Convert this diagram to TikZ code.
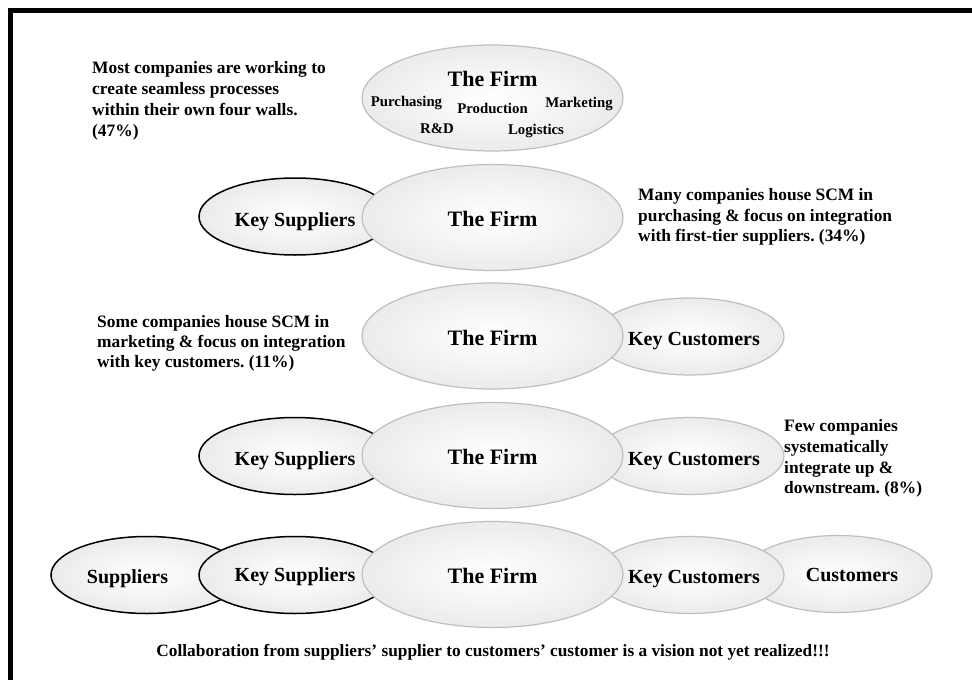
\documentclass[tikz,border=0pt]{standalone}
\usepackage{fontspec}
\setmainfont{Liberation Serif}
\usetikzlibrary{shapes.geometric}
\frenchspacing
\pgfdeclareradialshading{ellshade}{\pgfpoint{0bp}{0bp}}{color(0bp)=(white); color(10bp)=(white!97!black); color(50bp)=(white!84!black)}
\tikzset{
  firmell/.style={ellipse, draw=black!25, line width=1.2pt, shade, shading=ellshade, minimum width=261pt, minimum height=106pt, inner sep=0pt},
  supell/.style={ellipse, draw=black, line width=1.5pt, shade, shading=ellshade, minimum width=192pt, minimum height=77pt, inner sep=0pt},
  custell/.style={ellipse, draw=black!25, line width=1.2pt, shade, shading=ellshade, minimum width=188pt, minimum height=77pt, inner sep=0pt},
  lblbig/.style={font=\fontsize{22}{26}\selectfont\bfseries, anchor=base, inner sep=0pt},
  lblmid/.style={font=\fontsize{20}{24}\selectfont\bfseries, anchor=base, inner sep=0pt},
  lblsmall/.style={font=\fontsize{14.8}{18}\selectfont\bfseries, anchor=base, inner sep=0pt},
  lblnote/.style={font=\fontsize{17.4}{#1}\selectfont\bfseries, align=left, anchor=north west, inner sep=0pt},
}
\begin{document}
\begin{tikzpicture}[x=1pt,y=-1pt]
\useasboundingbox (0,0) rectangle (972,680);
\fill[white] (0,0) rectangle (972,680);
\draw[line width=5pt, line join=miter] (10.5,680) -- (10.5,10.5) -- (972,10.5);

% Row 1
\node[firmell] (firm1) at (492.5,98) {};
\node[lblbig] (firm1t) at (492.5,86) {The Firm};
\node[lblsmall] (pur) at (406.5,106) {Purchasing};
\node[lblsmall] (prod) at (492.5,113) {Production};
\node[lblsmall] (mkt) at (579,107) {Marketing};
\node[lblsmall] (rd) at (437,133) {R\&D};
\node[lblsmall] (log) at (536,134) {Logistics};
\node[lblnote=21pt] (n1) at (92,61.3) {Most companies are working to\\create seamless processes\\within their own four walls.\\(47\%)};

% Row 2
\node[supell] (ks2) at (295,216.5) {};
\node[firmell] (firm2) at (492.5,217.5) {};
\node[lblmid] (ks2t) at (295,226) {Key Suppliers};
\node[lblbig] (firm2t) at (492.5,226) {The Firm};
\node[lblnote=20.5pt] (n2) at (638,188.3) {Many companies house SCM in\\purchasing \& focus on integration\\with first-tier suppliers. (34\%)};

% Row 3
\node[custell] (kc3) at (690,336.5) {};
\node[firmell] (firm3) at (492.5,336) {};
\node[lblbig] (firm3t) at (492.5,345) {The Firm};
\node[lblmid] (kc3t) at (694,345) {Key Customers};
\node[lblnote=20pt] (n3) at (97,315.3) {Some companies house SCM in\\marketing \& focus on integration\\with key customers. (11\%)};

% Row 4
\node[supell] (ks4) at (295,456) {};
\node[custell] (kc4) at (690,456) {};
\node[firmell] (firm4) at (492.5,455.5) {};
\node[lblmid] (ks4t) at (295,465) {Key Suppliers};
\node[lblbig] (firm4t) at (492.5,464) {The Firm};
\node[lblmid] (kc4t) at (694,465) {Key Customers};
\node[lblnote=20.7pt] (n4) at (784,419.5) {Few companies\\systematically\\integrate up \&\\downstream. (8\%)};

% Row 5
\node[supell] (sup5) at (147,575) {};
\node[supell] (ks5) at (295,575) {};
\node[custell] (cus5) at (838,574) {};
\node[custell] (kc5) at (690,575) {};
\node[firmell] (firm5) at (492.5,574.5) {};
\node[lblmid] (sup5t) at (127.5,583) {Suppliers};
\node[lblmid] (ks5t) at (295,581) {Key Suppliers};
\node[lblbig] (firm5t) at (492.5,583) {The Firm};
\node[lblmid] (kc5t) at (694,583) {Key Customers};
\node[lblmid] (cus5t) at (852,581) {Customers};

\node[font=\fontsize{17.3}{20}\selectfont\bfseries, anchor=base, inner sep=0pt] (bottom) at (493,656) {Collaboration from suppliers’ supplier to customers’ customer is a vision not yet realized!!!};
\end{tikzpicture}
\end{document}
